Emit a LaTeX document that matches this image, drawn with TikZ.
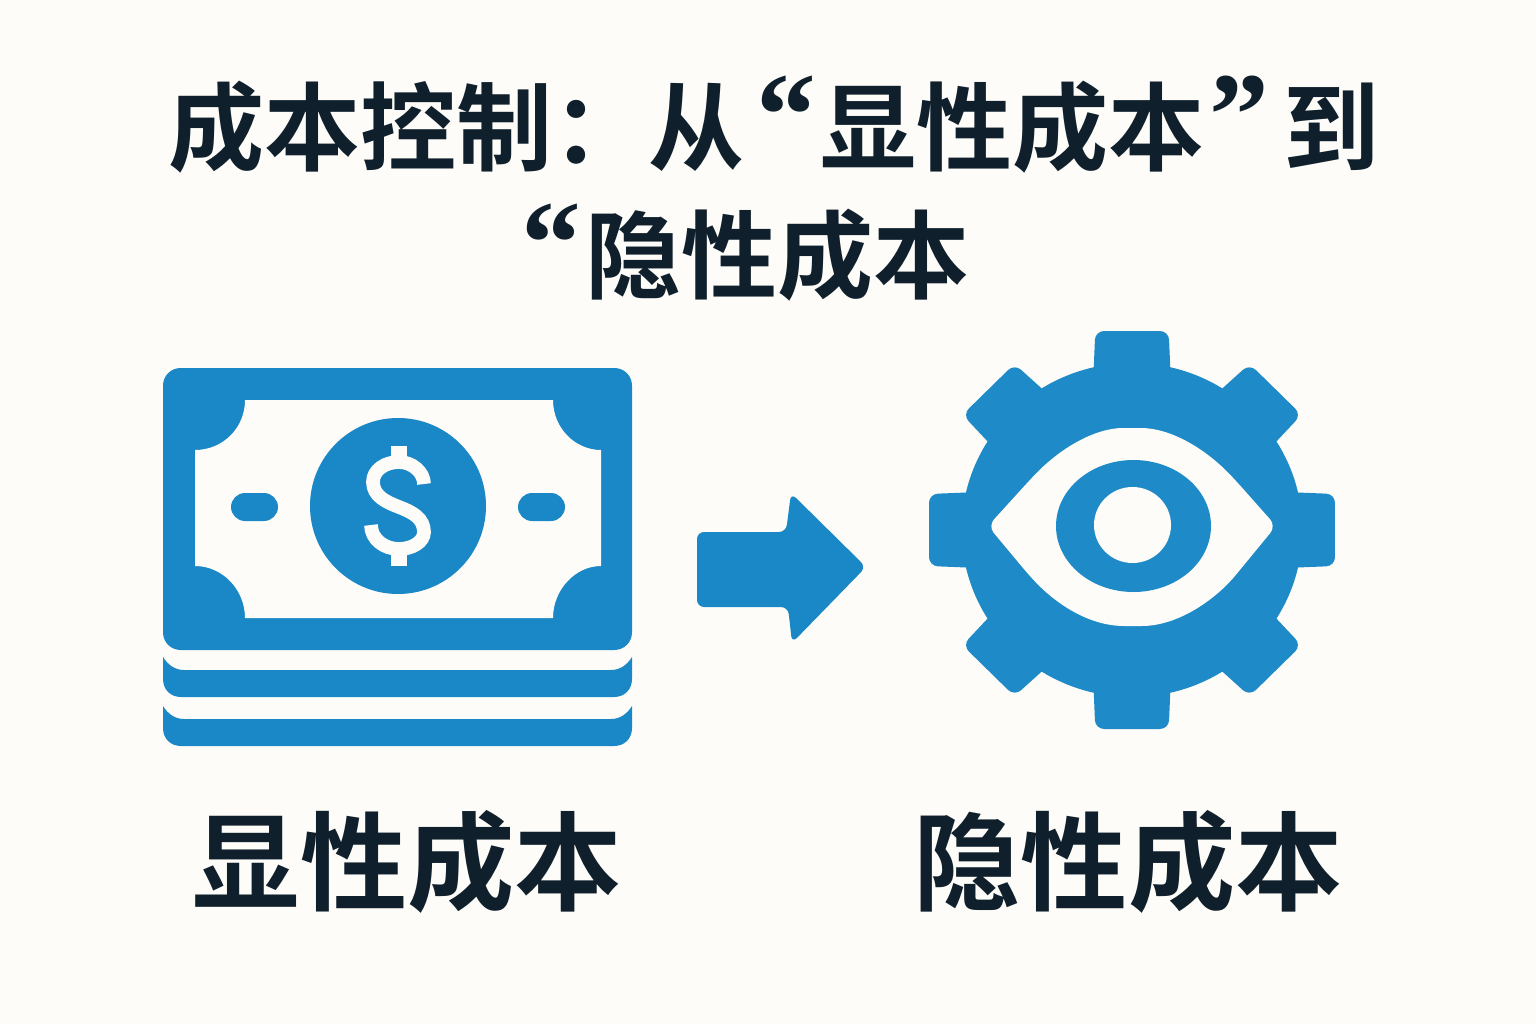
\documentclass[tikz,border=0pt]{standalone}
\usepackage{fontspec}
\setmainfont{Noto Sans CJK SC}[BoldFont={* Bold}]
\newfontfamily\quotefont{Liberation Serif}
\definecolor{paper}{HTML}{FDFCF8}
\definecolor{ink}{HTML}{0F1F2B}
\definecolor{billblue}{HTML}{1A87C6}
\definecolor{gearblue}{HTML}{1E8BC8}
\newcommand{\wideq}[1]{{\fontsize{34}{34}\quotefont\bfseries\raisebox{2pt}{#1}}}
\begin{document}
\begin{tikzpicture}[x=0.01cm,y=-0.01cm,
    titletext/.style={text=ink,inner sep=0pt,text depth=0pt,text height=0pt,font=\fontsize{27.3}{27.3}\selectfont\bfseries},
    labeltext/.style={text=ink,inner sep=0pt,font=\fontsize{30.5}{30.5}\selectfont\bfseries}]
                \coordinate (gearC) at (1132,530);
                \coordinate (coin) at (398,506);
                \fill[paper] (0,0) rectangle (1536,1024);
                \useasboundingbox (0,0) rectangle (1536,1024);
                \node[titletext] (titleA) at (774,163) {成本控制：从\kern0.12cm\wideq{“}\kern0.04cm 显性成本\kern0.05cm\wideq{”}\kern0.14cm 到};
                \node[titletext] (titleB) at (745.5,291) {\wideq{“}\kern0.05cm 隐性成本};
                \fill[billblue,rounded corners=5pt] (163,368) rectangle (632,650);
                \fill[paper] (245,400)--(553,400).. controls (553,428) and (575,450) ..(601,450)
                    --(601,566).. controls (575,566) and (553,590) ..(553,618)
                    --(245,618).. controls (245,590) and (223,566) ..(195,566)
                    --(195,450).. controls (223,450) and (245,428) ..(245,400)--cycle;
                \fill[billblue] (coin) circle (88);
                \draw[paper,line width=3.9pt] (424,484).. controls (424,472) and (412,462) ..(399,462)
                    .. controls (385,462) and (373,470) ..(373,482)
                    .. controls (373,496) and (386,502) ..(399,507)
                    .. controls (412,512) and (424,518) ..(424,532)
                    .. controls (424,542) and (412,549) ..(399,549)
                    .. controls (384,549) and (371,539) ..(371,525);
                \fill[paper] (391,446) rectangle (407,462);
                \fill[paper] (391,550) rectangle (407,566);
                \fill[billblue,rounded corners=4pt] (231,493) rectangle (278,521);
                \fill[billblue,rounded corners=4pt] (518,493) rectangle (565,521);
                \foreach \top in {657,706} {
                    \fill[billblue] (163,\top).. controls (168,\top+8) and (175,\top+13) ..(184,\top+13)
                        --(611,\top+13).. controls (620,\top+13) and (627,\top+8) ..(632,\top)
                        --(632,\top+22).. controls (632,\top+33) and (624,\top+40) ..(614,\top+40)
                        --(181,\top+40).. controls (171,\top+40) and (163,\top+33) ..(163,\top+22)--cycle;
                }
                \fill[billblue,rounded corners=2pt] (697,532)--(786,532)--(791,493)--(866,567)--(792,643)--(788,607)--(697,607)--cycle;
                \begin{scope}[shift={(gearC)},xscale=1.02]
                    \fill[gearblue] (0,0) circle (167);
                    \foreach \ang in {0,45,...,315} {
                        \fill[gearblue,rounded corners=2.5pt,rotate=\ang] (-38,-150)--(-36,-199)--(36,-199)--(38,-150)--cycle;
                    }
                \end{scope}
                \fill[paper,rounded corners=2.5pt] (988,526)--(1028,482).. controls (1060,448) and (1095,428) ..(1132,428)
                    .. controls (1170,428) and (1205,448) ..(1237,482)--(1276,526)--(1230,582)
                    .. controls (1200,610) and (1170,626) ..(1133,626)
                    .. controls (1090,626) and (1055,605) ..(1023,568)--cycle;
                \fill[gearblue] (1133.5,526) ellipse (77.5 and 66);
                \fill[paper] (1132.5,525) ellipse (38.5 and 38);
                \node[labeltext] (labelA) at (407.5,862) {显性成本};
                \node[labeltext] (labelB) at (1128,862) {隐性成本};
            \end{tikzpicture}
\end{document}
